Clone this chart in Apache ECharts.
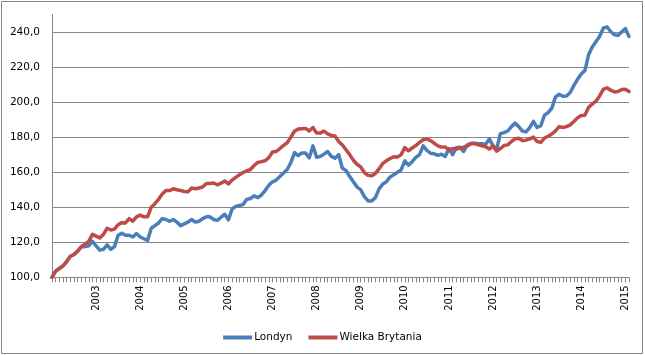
<!DOCTYPE html>
<html><head><meta charset="utf-8">
<script src="https://cdn.jsdelivr.net/npm/echarts@6/dist/echarts.min.js"></script>
<style>html,body{margin:0;padding:0;background:#fff}#c{width:645px;height:355px}</style>
</head><body><div id="c"></div>
<script>
// Monthly categories: Jan 2002 .. Feb 2015
const startYear = 2002;
const monthCount = 158;
const categories = [];
for (let k = 0; k < monthCount; k++) {
  const y = startYear + Math.floor(k / 12);
  const m = (k % 12) + 1;
  categories.push(y + '-' + (m < 10 ? '0' + m : m));
}
const yTicks = [100, 120, 140, 160, 180, 200, 220, 240];

const londyn = [
  100, 103.5, 105, 106.5, 109, 112, 113, 115, 117.5, 117.5, 118, 120.5,
  118, 115.5, 116, 118.5, 116, 117.5, 124, 125.2, 124, 124, 123, 125,
  123, 122, 121, 128, 129.5, 131, 133.5, 133, 132, 133, 131.5, 129.5,
  130.5, 131.5, 133, 131.5, 132, 133.5, 134.5, 134.5, 133, 132.5, 134.3, 136,
  132.8, 139, 140.5, 141, 141.5, 144.5, 145, 146.5, 145.5, 147, 149.5, 152.5,
  154.5, 155.5, 157.5, 159.5, 161.5, 165.5, 171.2, 169.5, 171, 170.9, 168.2, 175,
  168.5, 169, 170.3, 171.8, 169, 168, 170, 162.2, 161, 157.5, 154.5, 151.5,
  150, 146, 143.6, 143.6, 145.5, 150.5, 153.2, 154.5, 157.3, 158.5, 160, 161.3,
  166.5, 164, 166, 168.4, 170, 175, 172.5, 170.8, 170.5, 169.6, 170.3, 169,
  173.5, 170, 174, 174.2, 171.8, 175.6, 176.5, 176.5, 176.2, 176.2, 176, 179,
  175, 173.3, 182, 182.6, 183.5, 186, 188, 186, 183.5, 183, 185.5, 189,
  185.5, 186.5, 192.5, 194, 196.5, 203, 204.5, 203.3, 203.5, 205.5, 209.5, 213,
  216, 218, 227, 231.5, 234.5, 237.5, 242.2, 243, 240.3, 238.5, 238, 240,
  242, 237.5
];
const wielkaBrytania = [
  100, 103.5, 105, 106.5, 109, 112, 113, 115, 117.5, 119, 120.5, 124.5,
  123.5, 122.5, 124.5, 128, 127, 127.5, 130, 131.2, 131, 133.5, 132, 134.5,
  135.5, 134.5, 134.5, 140, 142, 144.5, 147.5, 149.5, 149.5, 150.5, 150, 149.5,
  149, 148.8, 151, 150.5, 151, 151.5, 153.5, 153.5, 153.8, 152.8, 153.7, 155,
  153.3, 155.5, 157, 158.5, 159.8, 160.8, 161.5, 163.8, 165.6, 166, 166.5, 168.3,
  171.5, 171.8, 173.5, 175.3, 176.8, 180, 183.5, 184.6, 184.8, 185, 183.5, 185.5,
  182.3, 182.3, 183.5, 181.8, 181, 180.7, 177.5, 175.5, 172.8, 170, 166.8, 164.5,
  163, 159.8, 158.2, 158, 159.3, 162, 165, 166.5, 167.8, 168.8, 168.6, 170,
  174, 172.2, 173.8, 175.2, 177, 178.5, 179, 178, 176.5, 175, 174.3, 174.4,
  172.5, 173.5, 173.2, 173.8, 174.3, 175, 176.2, 176.3, 175.6, 175, 174.5, 173.2,
  175, 172, 173.5, 175.2, 175.6, 177.5, 179, 179.4, 178, 178.3, 179, 180,
  177.5, 177, 179.5, 180.5, 181.8, 183.6, 186, 185.5, 186, 187, 188.9, 191,
  192.3, 192.5, 197, 198.8, 200.5, 203.5, 207.3, 208.2, 206.8, 205.8, 206, 207.2,
  207.3, 206
];

const FONT = 'DejaVu Sans';
const GRAY = '#868686';
const chart = echarts.init(document.getElementById('c'), null, {renderer: 'canvas'});
chart.setOption({
  animation: false,
  backgroundColor: '#ffffff',
  graphic: [{
    type: 'rect', silent: true,
    shape: {x: 1.5, y: 1.5, width: 641, height: 352},
    style: {fill: 'none', stroke: GRAY, lineWidth: 1}
  }],
  grid: {left: 52, right: 16, top: 14.5, bottom: 77.7, containLabel: false, outerBoundsMode: 'none'},
  legend: {
    data: ['Londyn', 'Wielka Brytania'],
    top: 327, left: 'center',
    icon: 'rect', itemWidth: 29, itemHeight: 4, itemGap: 16,
    textStyle: {fontFamily: FONT, fontSize: 10.5, color: '#000', padding: [0, 0, 0, -3]}
  },
  xAxis: {
    type: 'category',
    boundaryGap: false,
    data: categories,
    axisLine: {show: true, lineStyle: {color: GRAY, width: 1}},
    axisTick: {show: true, interval: 0, length: 5, lineStyle: {color: GRAY}},
    axisLabel: {
      rotate: 90, margin: 8,
      interval: function (idx) { return idx > 0 && idx % 12 === 0; },
      formatter: function (v) { return v.slice(0, 4); },
      fontFamily: FONT, fontSize: 10, color: '#000'
    },
    splitLine: {show: false}
  },
  yAxis: {
    type: 'value',
    min: yTicks[0], max: 250, interval: 20,
    axisLine: {show: true, lineStyle: {color: GRAY, width: 1}},
    axisTick: {show: false},
    axisLabel: {
      margin: 12, showMaxLabel: false,
      formatter: function (v) { return yTicks.indexOf(v) >= 0 ? v.toFixed(1).replace('.', ',') : ''; },
      fontFamily: FONT, fontSize: 10.5, color: '#000'
    },
    splitLine: {show: true, showMaxLine: false, lineStyle: {color: GRAY, width: 1}}
  },
  series: [
    {
      name: 'Londyn', type: 'line', data: londyn, symbol: 'none',
      itemStyle: {color: '#4A7EBB'},
      lineStyle: {color: '#4A7EBB', width: 3.5, cap: 'round', join: 'round'}
    },
    {
      name: 'Wielka Brytania', type: 'line', data: wielkaBrytania, symbol: 'none',
      itemStyle: {color: '#BE4B48'},
      lineStyle: {color: '#BE4B48', width: 3.5, cap: 'round', join: 'round'}
    }
  ]
});
</script>
</body></html>
